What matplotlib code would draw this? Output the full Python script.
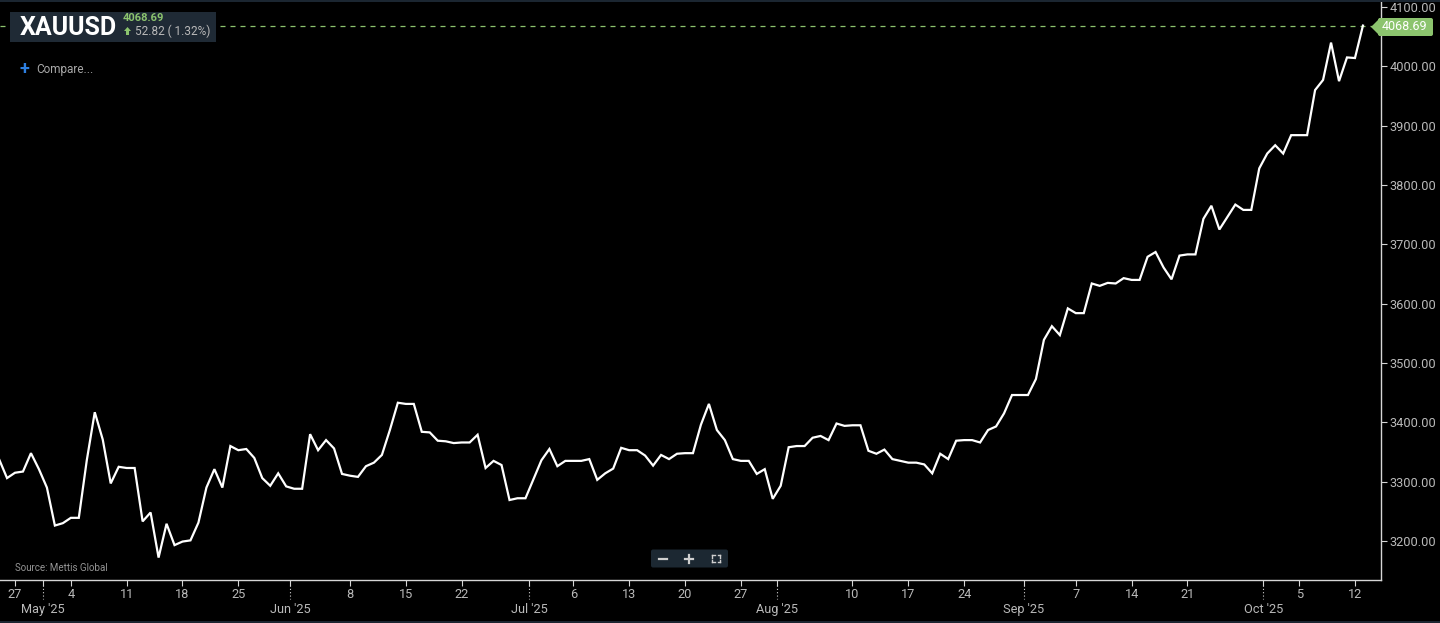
import matplotlib
matplotlib.use("Agg")
import matplotlib.pyplot as plt
import matplotlib.dates as mdates
import matplotlib.transforms as mtransforms
from matplotlib.patches import Rectangle, Polygon, FancyBboxPatch
import numpy as np
import pandas as pd

plt.rcParams['font.family'] = ['Roboto', 'DejaVu Sans']

# ---------------- data ----------------
start_date = "2025-04-25"
prices = [
    3338, 3306, 3315, 3317, 3348, 3321, 3290, 3226, 3230, 3239,
    3239, 3336, 3417, 3371, 3297, 3325, 3323, 3323, 3233, 3248,
    3172, 3229, 3193, 3199, 3201, 3231, 3290, 3321, 3290, 3360,
    3353, 3355, 3340, 3306, 3293, 3314, 3292, 3288, 3288, 3380,
    3353, 3370, 3356, 3313, 3310, 3308, 3326, 3332, 3345, 3387,
    3433, 3431, 3431, 3384, 3383, 3369, 3368, 3365, 3366, 3366,
    3379,
    3323, 3335, 3328, 3269, 3272, 3272, 3304, 3336, 3355, 3326,
    3335, 3335, 3335, 3338, 3303, 3314, 3322, 3357, 3353, 3353,
    3344, 3327, 3345, 3338, 3347, 3348, 3348, 3396, 3431, 3387,
    3370, 3338, 3335, 3335, 3313, 3321, 3271, 3293, 3358, 3360,
    3360, 3374, 3377, 3370, 3398, 3394, 3395, 3395, 3352, 3347,
    3354, 3338, 3335, 3332, 3332, 3329, 3314, 3347, 3338, 3369,
    3370, 3370, 3366, 3387, 3393, 3415, 3446, 3446, 3446,
    3473, 3539, 3562, 3547, 3592, 3584, 3584, 3634, 3630, 3635,
    3634, 3643, 3640, 3640, 3679, 3687, 3661, 3641, 3681, 3683,
    3683, 3743, 3765, 3725, 3746, 3767, 3758, 3758,
    3828, 3853, 3867, 3853, 3884, 3884, 3884, 3960, 3977, 4040,
    3975, 4015, 4014, 4068.69,
]
dates = pd.date_range(start_date, periods=len(prices), freq="D")

week_ticks = ["2025-04-27", "2025-05-04", "2025-05-11", "2025-05-18", "2025-05-25",
              "2025-06-08", "2025-06-15", "2025-06-22", "2025-07-06", "2025-07-13",
              "2025-07-20", "2025-07-27", "2025-08-10", "2025-08-17", "2025-08-24",
              "2025-09-07", "2025-09-14", "2025-09-21", "2025-10-05", "2025-10-12"]
week_labels = ["27", "4", "11", "18", "25", "8", "15", "22", "6", "13",
               "20", "27", "10", "17", "24", "7", "14", "21", "5", "12"]
month_ticks = ["2025-05-01", "2025-06-01", "2025-07-01", "2025-08-01", "2025-09-01", "2025-10-01"]
month_labels = ["May '25", "Jun '25", "Jul '25", "Aug '25", "Sep '25", "Oct '25"]
y_ticks = [3200, 3300, 3400, 3500, 3600, 3700, 3800, 3900, 4000, 4100]

symbol = "XAUUSD"
last_price = 4068.69
change_text = "52.82 ( 1.32%)"
source_text = "Source: Mettis Global"

# ---------------- styling ----------------
W, H = 1440, 623
BG = "#000000"
AXC = "#d6d6d6"
TXT = "#b9b9b9"
GREEN = "#8cc46e"

fig = plt.figure(figsize=(W / 100, H / 100), dpi=100, facecolor=BG)

ax_left, ax_right, ax_top, ax_bottom = 0, 1381, 2, 580
ax = fig.add_axes([ax_left / W, 1 - ax_bottom / H, (ax_right - ax_left) / W, (ax_bottom - ax_top) / H])
ax.set_facecolor(BG)

ax.plot(dates, prices, color="white", lw=1.6, solid_joinstyle="miter", zorder=3)

# scales
ref = mdates.date2num(pd.Timestamp("2025-04-27"))
px_per_day = 7.976
ax.set_xlim(ref - 15 / px_per_day, ref + (ax_right - 15) / px_per_day)
px_per_unit = 0.5933
y_top = 4100 + (7 - ax_top) / px_per_unit
y_bot = 4100 - (ax_bottom - 7) / px_per_unit
ax.set_ylim(y_bot, y_top)

for s in ["left", "top"]:
    ax.spines[s].set_visible(False)
for s in ["right", "bottom"]:
    ax.spines[s].set_color(AXC)
    ax.spines[s].set_linewidth(1.0)

ax.yaxis.tick_right()
ax.set_yticks(y_ticks)
ax.set_yticklabels([f"{v:.2f}" for v in y_ticks])
ax.tick_params(axis="y", colors=AXC, labelcolor=TXT, labelsize=9.2, length=4, width=0.8, pad=2)

wt = [pd.Timestamp(d) for d in week_ticks]
ax.set_xticks(wt)
ax.set_xticklabels(week_labels)
ax.tick_params(axis="x", which="major", colors=AXC, labelcolor=TXT, labelsize=9.2, length=4, width=0.8, pad=1.5)

mt = [mdates.date2num(pd.Timestamp(d)) - 0.5 for d in month_ticks]
ax.set_xticks(mt, minor=True)
ax.set_xticklabels(month_labels, minor=True)
ax.tick_params(axis="x", which="minor", colors=AXC, labelcolor=TXT, labelsize=9.2, length=4, width=0.8, pad=12.5)

trans = mtransforms.blended_transform_factory(ax.transData, ax.transAxes)
for m in mt:
    ax.plot([m, m], [-0.009, -0.033], transform=trans, color=AXC, lw=0.8,
            linestyle=(0, (1, 2)), clip_on=False)

# last price dashed line
ax.axhline(last_price, color=GREEN, lw=0.9, linestyle=(0, (4, 4)), zorder=2)

# ---------------- overlay (pixel coords) ----------------
ov = fig.add_axes([0, 0, 1, 1], zorder=10)
ov.set_xlim(0, W)
ov.set_ylim(H, 0)
ov.axis("off")
ov.patch.set_alpha(0)

# frame lines
ov.add_patch(Rectangle((0, 0), W, 1.5, color="#1b2631", lw=0))
ov.add_patch(Rectangle((0, 621), W, 2, color="#1b2631", lw=0))

# header box
ov.add_patch(Rectangle((10, 12), 206, 30, color="#1f2a35", lw=0))
ov.text(19.5, 28, symbol, color="white", fontsize=18, fontweight="bold", va="center", ha="left")
ov.text(123, 18, f"{last_price:.2f}", color=GREEN, fontsize=8, fontweight="bold", va="center", ha="left")
ov.add_patch(Polygon([[124, 31], [127.5, 27], [131, 31], [129, 31], [129, 35], [126, 35], [126, 31]],
                     closed=True, color=GREEN, lw=0))
ov.text(135, 31, change_text, color=TXT, fontsize=8.5, va="center", ha="left")

# compare
ov.text(19, 69, "+", color="#2d7fe0", fontsize=13, va="center", ha="left", fontweight="bold")
ov.text(36, 69, "Compare...", color="#a8a8a8", fontsize=8.5, va="center", ha="left")

# price tag
ov.add_patch(FancyBboxPatch((1378, 18), 55, 18, boxstyle="round,pad=0,rounding_size=2",
                            color=GREEN, lw=0))
ov.add_patch(Polygon([[1371, 27], [1380, 18], [1380, 36]], closed=True, color=GREEN, lw=0))
ov.text(1404, 27, f"{last_price:.2f}", color="white", fontsize=9, va="center", ha="center")

# source
ov.text(15, 568, source_text, color="#959595", fontsize=7, va="center", ha="left")

# zoom buttons
ov.add_patch(FancyBboxPatch((651, 549.5), 77, 18, boxstyle="round,pad=0,rounding_size=2",
                            color="#1c2832", lw=0))
ov.plot([659, 667], [558.5, 558.5], color="#cfcfcf", lw=1.6)
ov.plot([685, 693], [558.5, 558.5], color="#cfcfcf", lw=1.6)
ov.plot([689, 689], [554.5, 562.5], color="#cfcfcf", lw=1.6)
for (cx, cy, dx, dy) in [(712, 555, 1, 1), (720, 555, -1, 1), (712, 562, 1, -1), (720, 562, -1, -1)]:
    ov.plot([cx, cx + 2.5 * dx], [cy, cy], color="#cfcfcf", lw=1.0)
    ov.plot([cx, cx], [cy, cy + 2.5 * dy], color="#cfcfcf", lw=1.0)

fig.savefig("out.png", dpi=100, facecolor=BG)
